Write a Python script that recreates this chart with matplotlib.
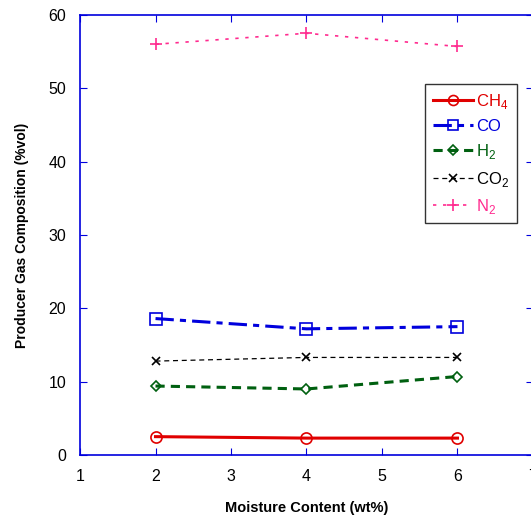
import matplotlib.pyplot as plt

plt.rcParams["font.family"] = ["Liberation Sans", "DejaVu Sans"]
plt.rcParams["mathtext.fontset"] = "custom"
plt.rcParams["mathtext.rm"] = "Liberation Sans"

moisture = [2, 4, 6]
ch4 = [2.5, 2.3, 2.3]
co = [18.6, 17.2, 17.5]
h2 = [9.4, 9.0, 10.7]
co2 = [12.8, 13.3, 13.3]
n2 = [56.0, 57.5, 55.7]

fig = plt.figure(figsize=(5.31, 5.22), dpi=100)
ax = fig.add_axes([0.1507, 0.1284, 0.853, 0.843])

ax.plot(moisture, ch4, color="#e00000", lw=2.2, marker="o", ms=8, mfc="none", mew=1.2, label="CH$_4$")
ax.plot(moisture, co, color="#0000dd", lw=2.2, ls=(0, (6, 2, 2, 2)), marker="s", ms=8, mfc="none", mew=1.2, label="CO")
ax.plot(moisture, h2, color="#006010", lw=2.2, ls=(0, (3, 2)), marker="D", ms=5.5, mfc="none", mew=1.2, label="H$_2$")
ax.plot(moisture, co2, color="black", lw=0.9, ls=(0, (4, 3)), marker="x", ms=6, mew=1.2, label="CO$_2$")
ax.plot(moisture, n2, color="#ff2b8f", lw=1.2, ls=(0, (2, 4)), marker="+", ms=9, mew=1.2, label="N$_2$")

ax.set_xlim(1, 7)
ax.set_ylim(0, 60)
ax.set_xticks(range(1, 8))
ax.set_yticks(range(0, 61, 10))
for s in ax.spines.values():
    s.set_color("#0000dd")
    s.set_linewidth(1.2)
ax.tick_params(direction="in", top=True, right=True, color="#0000dd", length=5, labelsize=11.5, pad=10)

ax.set_xlabel("Moisture Content (wt%)", fontweight="bold", fontsize=10.5, labelpad=12)
ax.set_ylabel("Producer Gas Composition (%vol)", fontweight="bold", fontsize=10, labelpad=14)

leg = ax.legend(loc="upper left", bbox_to_anchor=(0.762, 0.843), frameon=True, fancybox=False,
                edgecolor="black", fontsize=12, handlelength=2.4, borderpad=0.45, labelspacing=0.5,
                handletextpad=0.2, markerscale=0.9, borderaxespad=0)
leg.get_frame().set_linewidth(1)
for txt, ln in zip(leg.get_texts(), leg.get_lines()):
    txt.set_color(ln.get_color())

fig.savefig("out.png", dpi=100)
